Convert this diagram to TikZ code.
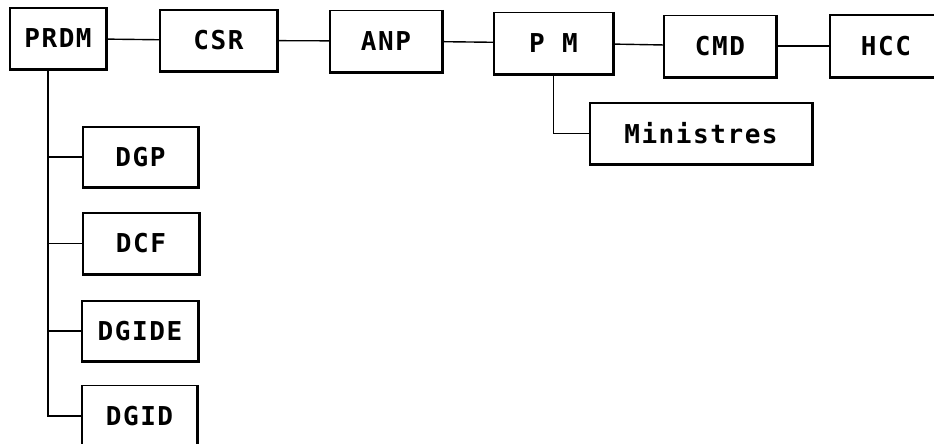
\documentclass[tikz,border=0pt]{standalone}
\usepackage{fontspec}
\setmonofont{DejaVu Sans Mono}[LetterSpace=6]
\usetikzlibrary{positioning}
\tikzset{
  unit/.style={draw,line width=0.7pt,inner sep=0pt,minimum height=30.5pt,font=\ttfamily\bfseries\fontsize{13}{16}\selectfont},
  link/.style={line width=0.7pt}
}

\begin{document}
\begin{tikzpicture}[x=0.5pt,y=-0.5pt]
  \useasboundingbox (0,0) rectangle (934,444);
  \clip (0,0) rectangle (934,444);
  % top row
  \node[unit,minimum width=48pt] (prdm) at (58,38.5) {PRDM};
  \node[unit,minimum width=58.5pt] (csr) at (218.5,40.5) {CSR};
  \node[unit,minimum width=56pt] (anp) at (386,41) {ANP};
  \node[unit,minimum width=59.5pt] (pm) at (553.5,43) {P M};
  \node[unit,minimum width=56pt] (cmd) at (720,46) {CMD};
  \node[unit,minimum width=56pt,minimum height=31pt] (hcc) at (886,46) {HCC};
  \node[unit,minimum width=111pt] (min) at (701,133.5) {Ministres};
  % directions under PRDM
  \node[unit,minimum width=57.5pt,minimum height=30pt] (dgp) at (140.5,157) {DGP};
  \node[unit,minimum width=58pt] (dcf) at (141,243.5) {DCF};
  \node[unit,minimum width=58pt,minimum height=30pt] (dgide) at (140,331) {DGIDE};
  \node[unit,minimum width=57.5pt] (dgid) at (139.5,416) {DGID};
  % heavy right and bottom edges
  \foreach \n in {prdm,csr,anp,pm,cmd,hcc,min,dgp,dcf,dgide,dgid}
    \draw[line width=1.5pt] (\n.north east) -- (\n.south east) -- (\n.south west);
  % links
  \draw[link] (prdm) -- (csr);
  \draw[link] (csr) -- (anp);
  \draw[link] (anp) -- (pm);
  \draw[link] (pm) -- (cmd);
  \draw[link] (cmd) -- (hcc);
  \draw[link] (pm.south) |- (min.west);
  \coordinate (trunk) at ([xshift=-5pt]prdm.south);
  \draw[link] (trunk) |- (dgid.west);
  \foreach \n in {dgp,dcf,dgide}
    \draw[link] (\n.west) -| (trunk);
\end{tikzpicture}
\end{document}
